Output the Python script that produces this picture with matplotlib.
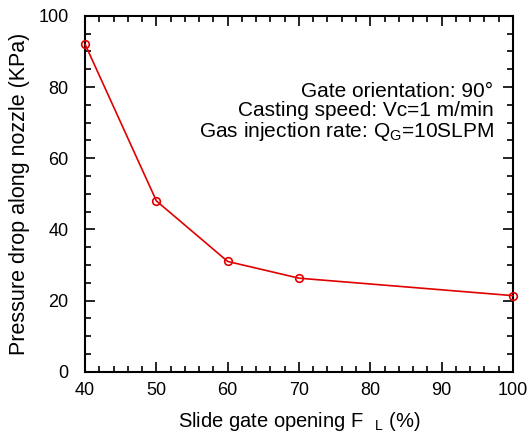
import matplotlib.pyplot as plt
from matplotlib.ticker import MultipleLocator

plt.rcParams['font.family'] = ['Liberation Sans', 'DejaVu Sans']
plt.rcParams['mathtext.fontset'] = 'custom'
plt.rcParams['mathtext.rm'] = 'Liberation Sans'
plt.rcParams['mathtext.it'] = 'Liberation Sans'

# data
opening = [40, 50, 60, 70, 100]
pressure_drop = [92, 48, 31, 26.3, 21.4]

fig = plt.figure(figsize=(5.32, 4.4), dpi=100)
ax = fig.add_axes([0.16, 0.155, 0.804, 0.809])

ax.plot(opening, pressure_drop, 'o-', color='#e00000', lw=1.2,
        markersize=5.5, markerfacecolor='none', markeredgewidth=1.2,
        clip_on=False, zorder=3)

ax.set_xlim(40, 100)
ax.set_ylim(0, 100)
ax.xaxis.set_major_locator(MultipleLocator(10))
ax.xaxis.set_minor_locator(MultipleLocator(2))
ax.yaxis.set_major_locator(MultipleLocator(20))
ax.yaxis.set_minor_locator(MultipleLocator(5))
ax.tick_params(which='both', direction='in', top=True, right=True,
               labelsize=13, width=1.2)
ax.tick_params(axis='x', pad=7)
ax.tick_params(axis='y', pad=12)
ax.tick_params(which='major', length=7)
ax.tick_params(which='minor', length=4)
for s in ax.spines.values():
    s.set_linewidth(1.5)

ax.set_xlabel('Slide gate opening F$_{\\ \\ \\ L}$ (%)', fontsize=14.5, labelpad=8)
ax.set_ylabel('Pressure drop along nozzle (KPa)', fontsize=15.5, labelpad=6)

txt = 'Gate orientation: 90°\nCasting speed: Vc=1 m/min\nGas injection rate: Q$_G$=10SLPM'
ax.text(0.955, 0.814, txt, transform=ax.transAxes, ha='right', va='top',
        fontsize=15, linespacing=1.0)

plt.savefig('out.png', dpi=100)
